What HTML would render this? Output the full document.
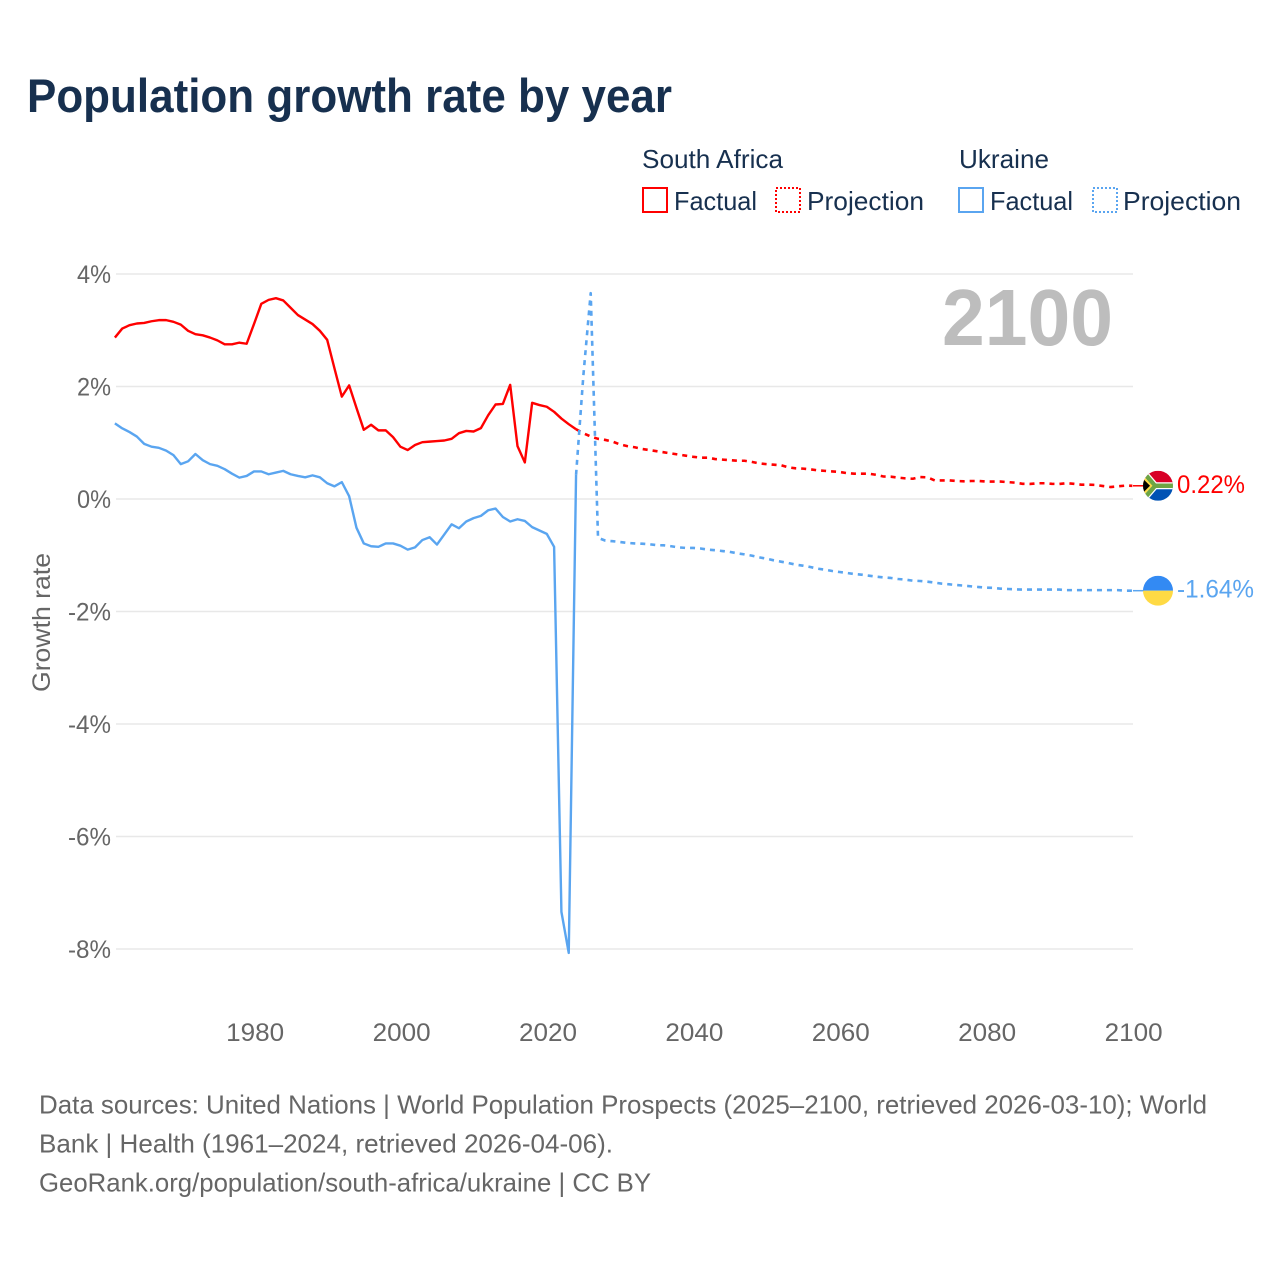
<!DOCTYPE html>
<html lang="en">
<head>
<meta charset="utf-8">
<title>Population growth rate by year</title>
<style>
  html, body { margin: 0; padding: 0; background: #fff; }
  svg { display: block; }
  text { font-family: "Liberation Sans", "DejaVu Sans", sans-serif; }
</style>
</head>
<body>
<svg id="chart" xmlns="http://www.w3.org/2000/svg" width="1280" height="1280" viewBox="0 0 1280 1280">
  <rect x="0" y="0" width="1280" height="1280" fill="#ffffff"/>
  <text x="27" y="112" font-size="47" font-weight="700" fill="#17304f" textLength="645" lengthAdjust="spacingAndGlyphs">Population growth rate by year</text>

  <g font-size="26" fill="#17304f">
    <text x="642" y="168" textLength="141" lengthAdjust="spacingAndGlyphs">South Africa</text>
    <text x="959" y="168" textLength="90" lengthAdjust="spacingAndGlyphs">Ukraine</text>
    <rect x="643" y="188" width="24" height="24" fill="none" stroke="#ff0000" stroke-width="2"/>
    <text x="674" y="210" textLength="83" lengthAdjust="spacingAndGlyphs">Factual</text>
    <rect x="776" y="188" width="24" height="24" fill="none" stroke="#ff0000" stroke-width="2" stroke-dasharray="2 2"/>
    <text x="807" y="210" textLength="117" lengthAdjust="spacingAndGlyphs">Projection</text>
    <rect x="959" y="188" width="24" height="24" fill="none" stroke="#5aa5f0" stroke-width="2"/>
    <text x="990" y="210" textLength="83" lengthAdjust="spacingAndGlyphs">Factual</text>
    <rect x="1093" y="188" width="24" height="24" fill="none" stroke="#5aa5f0" stroke-width="2" stroke-dasharray="2 2"/>
    <text x="1123" y="210" textLength="118" lengthAdjust="spacingAndGlyphs">Projection</text>
  </g>

  <g id="grid"></g>
  <g id="yticks"></g>
  <g id="xticks"></g>
  <text x="942" y="345" font-size="80" font-weight="700" fill="#bdbdbd" textLength="171" lengthAdjust="spacingAndGlyphs">2100</text>
  <text transform="translate(50,692) rotate(-90)" font-size="25" fill="#666666" textLength="139" lengthAdjust="spacingAndGlyphs">Growth rate</text>
  <g id="series"></g>

  <defs>
    <clipPath id="flag-clip"><circle cx="0" cy="0" r="15"/></clipPath>
  </defs>
  <g id="flag-za">
    <g clip-path="url(#flag-clip)">
      <rect x="-15" y="-15" width="30" height="15" fill="#d80027"/>
      <rect x="-15" y="0" width="30" height="15" fill="#0052b4"/>
      <path d="M-15,-14 L-3,0 L15,0 M-15,14 L-3,0" fill="none" stroke="#ffffff" stroke-width="7"/>
      <path d="M-15,-14 L-3,0 L15,0 M-15,14 L-3,0" fill="none" stroke="#6da544" stroke-width="4.5"/>
      <polygon points="-15,-10 -5.5,0 -15,10" fill="#ffda44"/>
      <polygon points="-15,-7 -8,0 -15,7" fill="#000000"/>
    </g>
  </g>
  <g id="flag-ua">
    <g clip-path="url(#flag-clip)">
      <rect x="-15" y="-15" width="30" height="15" fill="#338af3"/>
      <rect x="-15" y="0" width="30" height="15" fill="#ffda44"/>
    </g>
  </g>
  <text id="label-za" x="1177" font-size="25" fill="#ff0000" textLength="68" lengthAdjust="spacingAndGlyphs"></text>
  <text id="label-ua" x="1177" font-size="25" fill="#5aa5f0" textLength="77" lengthAdjust="spacingAndGlyphs"></text>

  <g font-size="26" fill="#666666">
    <text x="39" y="1113.5" textLength="1168" lengthAdjust="spacingAndGlyphs">Data sources: United Nations | World Population Prospects (2025–2100, retrieved 2026-03-10); World</text>
    <text x="39" y="1152.5" textLength="574" lengthAdjust="spacingAndGlyphs">Bank | Health (1961–2024, retrieved 2026-04-06).</text>
    <text x="39" y="1191.5" textLength="612" lengthAdjust="spacingAndGlyphs">GeoRank.org/population/south-africa/ukraine | CC BY</text>
  </g>
</svg>

<script>
const factualStartYear = 1961;
const projectionStartYear = 2024;

const yTickValues = [4, 2, 0, -2, -4, -6, -8];
const yTickLabels = ["4%", "2%", "0%", "-2%", "-4%", "-6%", "-8%"];
const xTickValues = [1980, 2000, 2020, 2040, 2060, 2080, 2100];
const xTickLabels = ["1980", "2000", "2020", "2040", "2060", "2080", "2100"];

const southAfricaFactual = [
  2.87, 3.03, 3.09, 3.12, 3.13, 3.16, 3.18, 3.18, 3.15, 3.10,
  2.99, 2.93, 2.91, 2.87, 2.82, 2.75, 2.75, 2.78, 2.76, 3.11,
  3.47, 3.54, 3.57, 3.53, 3.40, 3.27, 3.19, 3.11, 2.99, 2.83,
  2.32, 1.82, 2.02, 1.62, 1.23, 1.32, 1.22, 1.22, 1.10, 0.93,
  0.87, 0.96, 1.01, 1.02, 1.03, 1.04, 1.07, 1.17, 1.21, 1.20,
  1.26, 1.49, 1.68, 1.69, 2.03, 0.94, 0.65, 1.71, 1.67, 1.64,
  1.55, 1.43, 1.33, 1.24
];
const southAfricaProjection = [
  1.24, 1.17, 1.11, 1.07, 1.05, 1.02, 0.97, 0.94, 0.92, 0.89,
  0.87, 0.85, 0.83, 0.81, 0.79, 0.77, 0.75, 0.735, 0.735, 0.71,
  0.70, 0.69, 0.68, 0.68, 0.66, 0.634, 0.62, 0.61, 0.60, 0.563,
  0.545, 0.54, 0.527, 0.51, 0.50, 0.49, 0.48, 0.46, 0.45, 0.45,
  0.45, 0.43, 0.40, 0.397, 0.38, 0.367, 0.36, 0.39, 0.385, 0.33,
  0.33, 0.33, 0.32, 0.315, 0.32, 0.32, 0.31, 0.31, 0.31, 0.30,
  0.29, 0.27, 0.267, 0.28, 0.28, 0.27, 0.267, 0.28, 0.27, 0.255,
  0.255, 0.25, 0.23, 0.213, 0.225, 0.237, 0.235
];
const ukraineFactual = [
  1.345, 1.256, 1.19, 1.11, 0.98, 0.93, 0.91, 0.86, 0.78, 0.62,
  0.67, 0.80, 0.69, 0.62, 0.59, 0.53, 0.45, 0.38, 0.41, 0.49,
  0.49, 0.44, 0.47, 0.50, 0.44, 0.41, 0.385, 0.42, 0.385, 0.28,
  0.225, 0.30, 0.05, -0.51, -0.79, -0.84, -0.85, -0.79, -0.79, -0.83,
  -0.90, -0.86, -0.73, -0.68, -0.81, -0.63, -0.45, -0.52, -0.40, -0.34,
  -0.30, -0.20, -0.17, -0.32, -0.40, -0.36, -0.39, -0.50, -0.56, -0.62,
  -0.85, -7.34, -8.07, 0.43
];
const ukraineProjection = [
  0.43, 2.2, 3.66, -0.69, -0.74, -0.75, -0.765, -0.78, -0.79, -0.795,
  -0.805, -0.82, -0.824, -0.84, -0.86, -0.87, -0.87, -0.88, -0.90, -0.91,
  -0.925, -0.94, -0.965, -0.984, -1.007, -1.037, -1.061, -1.09, -1.114, -1.138,
  -1.167, -1.185, -1.209, -1.239, -1.256, -1.28, -1.298, -1.316, -1.333, -1.345,
  -1.363, -1.381, -1.393, -1.404, -1.422, -1.434, -1.452, -1.458, -1.47, -1.487,
  -1.505, -1.517, -1.53, -1.54, -1.553, -1.565, -1.576, -1.58, -1.594, -1.60,
  -1.606, -1.61, -1.61, -1.61, -1.61, -1.61, -1.61, -1.62, -1.62, -1.62,
  -1.62, -1.62, -1.62, -1.62, -1.62, -1.63, -1.63
];
const southAfricaEndLabel = "0.22%";
const ukraineEndLabel = "-1.64%";

const NS = "http://www.w3.org/2000/svg";
const RED = "#ff0000";
const BLUE = "#5aa5f0";

function xScale(year) {
  return 114.9 + (year - 1961) * 7.32;
}
function yScale(value) {
  return 499 - value * 56.25;
}
function make(tag, attrs, parent) {
  const el = document.createElementNS(NS, tag);
  for (const key in attrs) el.setAttribute(key, attrs[key]);
  parent.appendChild(el);
  return el;
}
function linePath(values, startYear) {
  return values.map(function (v, i) {
    return (i ? "L" : "M") + xScale(startYear + i).toFixed(2) + "," + yScale(v).toFixed(2);
  }).join(" ");
}

const gridGroup = document.getElementById("grid");
const yTickGroup = document.getElementById("yticks");
yTickValues.forEach(function (v, i) {
  const g = make("line", { x1: 116, x2: 1133, y1: yScale(v), y2: yScale(v), stroke: "#e8e8e8", "stroke-width": 1.4 }, gridGroup);
  
  
  const t = make("text", { x: 111, y: yScale(v) + 9, "text-anchor": "end", "font-size": 25, fill: "#666666", textLength: yTickLabels[i].length === 2 ? 34 : 43, lengthAdjust: "spacingAndGlyphs" }, yTickGroup);
  t.textContent = yTickLabels[i];
  
  
});

const xTickGroup = document.getElementById("xticks");
xTickValues.forEach(function (v, i) {
  const t = make("text", { x: xScale(v) + 1.2, y: 1041, "text-anchor": "middle", "font-size": 25, fill: "#666666", textLength: 58, lengthAdjust: "spacingAndGlyphs" }, xTickGroup);
  t.textContent = xTickLabels[i];
  
  
});

const seriesGroup = document.getElementById("series");
function drawSeries(values, startYear, color, dashed, name) {
  const p = make("path", {
    d: linePath(values, startYear),
    fill: "none",
    stroke: color,
    "stroke-width": dashed ? 2.6 : 2.4,
    "stroke-linejoin": "round"
  }, seriesGroup);
  if (dashed) p.setAttribute("stroke-dasharray", "5 5");
  
  
  return p;
}
drawSeries(southAfricaFactual, factualStartYear, RED, false, "line-south-africa-factual");
drawSeries(southAfricaProjection, projectionStartYear, RED, true, "line-south-africa-projection");
drawSeries(ukraineFactual, factualStartYear, BLUE, false, "line-ukraine-factual");
drawSeries(ukraineProjection, projectionStartYear, BLUE, true, "line-ukraine-projection");

function placeEnd(values, color, flagId, labelId, labelText, connectorName) {
  const cy = yScale(values[values.length - 1]);
  const c = make("line", { x1: 1133, x2: 1144, y1: cy, y2: cy, stroke: color, "stroke-width": 1.5 }, seriesGroup);
  
  
  document.getElementById(flagId).setAttribute("transform", "translate(1158," + cy + ")");
  const label = document.getElementById(labelId);
  label.setAttribute("y", cy + 7);
  label.textContent = labelText;
}
placeEnd(southAfricaProjection, RED, "flag-za", "label-za", southAfricaEndLabel, "connector-south-africa");
placeEnd(ukraineProjection, BLUE, "flag-ua", "label-ua", ukraineEndLabel, "connector-ukraine");
</script>
</body>
</html>
